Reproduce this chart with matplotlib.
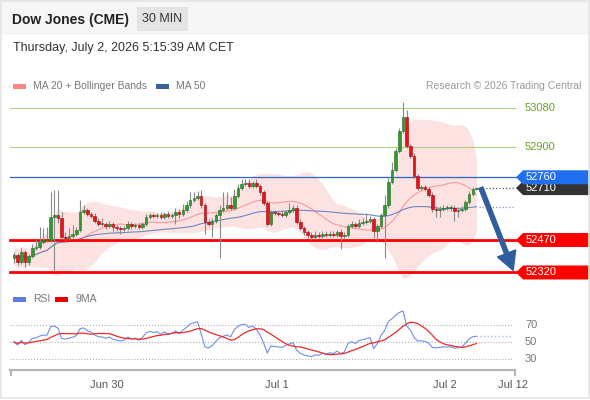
import numpy as np
import pandas as pd
import matplotlib
matplotlib.use("Agg")
import matplotlib.pyplot as plt
from matplotlib import transforms
from matplotlib.patches import Polygon, Rectangle

plt.rcParams['font.family'] = ['Liberation Sans', 'DejaVu Sans']

# 30 min closes (Jun 29 evening -> Jul 2 morning)
closes = [
    52400, 52370, 52415, 52370, 52395, 52435, 52440, 52460, 52470, 52470,
    52575, 52585, 52570, 52485, 52480, 52490, 52500, 52515, 52600, 52610,
    52590, 52580, 52560, 52545, 52545, 52535, 52545, 52530, 52525, 52520,
    52525, 52545, 52535, 52540, 52530, 52545, 52575, 52585, 52580, 52585,
    52575, 52590, 52580, 52585, 52600, 52590, 52610, 52630, 52655, 52665,
    52675, 52630, 52555, 52545, 52560, 52585, 52610, 52620, 52630, 52620,
    52675, 52710, 52730, 52735, 52720, 52735, 52720, 52690, 52640, 52545,
    52600, 52595, 52590, 52585, 52600, 52610, 52620, 52555, 52525, 52505,
    52495, 52485, 52495, 52490, 52500, 52495, 52500, 52495, 52505, 52490,
    52495, 52535, 52545, 52535, 52550, 52555, 52560, 52565, 52510, 52535,
    52585, 52630, 52740, 52795, 52880, 52975, 53040, 52905, 52860, 52765,
    52710, 52715, 52705, 52680, 52615, 52610, 52615, 52620, 52620, 52620,
    52605, 52610, 52615, 52645, 52685, 52705, 52710,
]
first_open = 52385
# wick length above / below the body, in points
upper_wick = [
    15, 10, 20, 10, 10, 15, 30, 70, 55, 60,
    115, 115, 115, 30, 20, 35, 40, 15, 55, 20,
    10, 10, 15, 10, 25, 10, 15, 10, 10, 10,
    10, 15, 10, 10, 10, 10, 15, 10, 10, 10,
    15, 10, 15, 10, 20, 15, 25, 20, 35, 25,
    20, 25, 10, 10, 10, 10, 20, 70, 60, 40,
    30, 20, 20, 15, 15, 10, 15, 10, 10, 10,
    10, 10, 10, 20, 10, 30, 10, 10, 10, 10,
    10, 10, 15, 10, 10, 10, 10, 10, 10, 15,
    10, 10, 15, 10, 15, 15, 35, 15, 10, 10,
    10, 50, 15, 35, 15, 15, 70, 30, 10, 10,
    10, 10, 10, 10, 10, 10, 10, 10, 10, 10,
    10, 10, 10, 10, 10, 10, 5,
]
lower_wick = [
    20, 15, 10, 25, 15, 10, 10, 10, 10, 10,
    10, 250, 20, 10, 15, 10, 10, 10, 10, 10,
    10, 10, 10, 10, 10, 15, 10, 20, 15, 20,
    10, 10, 15, 10, 10, 10, 10, 10, 10, 10,
    10, 10, 10, 10, 40, 20, 10, 10, 10, 10,
    10, 10, 55, 10, 60, 10, 200, 10, 10, 10,
    10, 10, 10, 10, 10, 10, 10, 10, 10, 10,
    10, 10, 10, 10, 10, 10, 10, 10, 10, 10,
    15, 15, 10, 10, 10, 10, 10, 10, 10, 60,
    10, 10, 10, 10, 10, 10, 10, 10, 30, 50,
    10, 200, 10, 10, 10, 10, 10, 10, 10, 10,
    10, 10, 10, 10, 15, 35, 35, 10, 10, 15,
    45, 30, 10, 10, 10, 10, 5,
]

green_levels = [53080, 52900]
blue_level = 52760
red_levels = [52470, 52320]
last_price = 52710

day_pos = [25.3, 71.7, 117.4, 136.0]
day_labels = ["Jun 30", "Jul 1", "Jul 2", "Jul 12"]
rsi_levels = [70, 50, 30]

W, H = 590, 400
def fx(x): return x / W
def fy(y): return 1 - y / H

fig = plt.figure(figsize=(5.9, 4.0), dpi=100)
fig.patch.set_facecolor('white')

# header strip + frame
fig.patches.append(Rectangle((0, fy(35)), 1, 1 - fy(35), transform=fig.transFigure,
                             facecolor='#f6f6f6', edgecolor='none', zorder=0))
fig.patches.append(Rectangle((fx(1), fy(398)), fx(588), fy(1) - fy(398), transform=fig.transFigure,
                             facecolor='none', edgecolor='#e4e4e4', lw=1.2, zorder=0))
fig.patches.append(Rectangle((fx(137), fy(31)), fx(51), fy(7) - fy(31), transform=fig.transFigure,
                             facecolor='#e4e4e4', edgecolor='none', zorder=1))
fig.text(fx(12), fy(20), "Dow Jones (CME)", fontsize=10, fontweight='bold', color='#222222', va='center')
fig.text(fx(162.5), fy(19), "30 MIN", fontsize=9, color='#333333', va='center', ha='center')
fig.text(fx(13), fy(48), "Thursday, July 2, 2026 5:15:39 AM CET", fontsize=9, color='#333333', va='center')

# legends
def legend_item(x, y, color, label):
    fig.patches.append(Rectangle((fx(x), fy(y + 2.5)), fx(13), fy(y - 2.5) - fy(y + 2.5),
                                 transform=fig.transFigure, facecolor=color, edgecolor='none'))
    fig.text(fx(x + 20), fy(y), label, fontsize=7.5, color='#777777', va='center')

legend_item(13, 86, '#ff8585', "MA 20 + Bollinger Bands")
legend_item(156, 86, '#3a5f9f', "MA 50")
fig.text(fx(581), fy(86), "Research \u00a9 2026 Trading Central", fontsize=7.5, color='#9a9a9a',
         va='center', ha='right')
legend_item(13, 299, '#5b7fe0', "RSI")
legend_item(55, 299, '#ee0000', "9MA")

# ---- price panel
x0, x1 = -1.09, 136.5
ax = fig.add_axes([fx(10), fy(282), fx(515) - fx(10), fy(97) - fy(282)])
ax.set_xlim(x0, x1)
ax.set_ylim(52276, 53131)
ax.axis('off')

c = np.array(closes, dtype=float)
o = np.concatenate([[first_open], c[:-1]])
idx = np.arange(len(c))
top = np.maximum(o, c)
bot = np.minimum(o, c)
hi = top + np.array(upper_wick)
lo = bot - np.array(lower_wick)

s = pd.Series(c)
ma20 = s.rolling(20, min_periods=1).mean()
sd20 = s.rolling(20, min_periods=3).std().bfill()
ma50 = s.rolling(50, min_periods=1).mean()

ax.fill_between(idx, ma20 - 2 * sd20, ma20 + 2 * sd20, color='#fde2e2', lw=0, zorder=1)
ax.plot(idx, ma20, color='#f39a9a', lw=0.8, zorder=2)
ax.plot(idx, ma50, color='#6a86c4', lw=0.8, zorder=2)

blend = transforms.blended_transform_factory(fig.transFigure, ax.transData)
for lv in green_levels:
    ax.plot([fx(10), fx(515)], [lv, lv], transform=blend, color='#a9d284', lw=0.8, zorder=2, clip_on=False)
    fig.text(fx(525), lv, str(lv), transform=blend, fontsize=8, color='#5fa81e', va='center')
ax.plot([fx(10), fx(518)], [blue_level] * 2, transform=blend, color='#2c63d4', lw=0.9, zorder=2, clip_on=False)
for lv in red_levels:
    ax.plot([fx(10), fx(518)], [lv, lv], transform=blend, color='#ff0000', lw=2, zorder=2, clip_on=False)

# dotted extensions
ax.plot([idx[-1] + 0.6, x1], [last_price] * 2, color='#555555', lw=0.9, ls=':', zorder=2)
ax.plot([idx[-1] + 0.6, x1], [ma50.iloc[-1]] * 2, color='#8797bb', lw=0.9, ls=':', zorder=2)

# candles
up = c >= o
ax.vlines(idx, lo, hi, color='#8a8a8a', lw=0.8, zorder=3)
heights = np.maximum(top - bot, 3)
ax.bar(idx[up], heights[up], bottom=bot[up], width=0.7, color='#2f9a2f',
       edgecolor='#1f6a1f', lw=0.4, zorder=4)
ax.bar(idx[~up], heights[~up], bottom=bot[~up], width=0.7, color='#e8141b',
       edgecolor='#a30000', lw=0.4, zorder=4)

# price tags on the right
half = 7 * (53131 - 52276) / 185.0
def tag(price, text, face, txt_color='white', z=5):
    pts = [(fx(516), price), (fx(523), price + half), (fx(590), price + half),
           (fx(590), price - half), (fx(523), price - half)]
    ax.add_patch(Polygon(pts, closed=True, transform=blend, facecolor=face,
                         edgecolor='none', zorder=z, clip_on=False))
    ax.text(fx(526), price, text, transform=blend, fontsize=8, color=txt_color,
            va='center', zorder=z + 0.5, clip_on=False)

tag(last_price, str(last_price), '#333333', z=5)
tag(blue_level, str(blue_level), '#1f6ff0', z=7)
for lv in red_levels:
    tag(lv, str(lv), '#ff0000', z=5)

# forecast arrow
ax.annotate('', xy=(136.0, 52330), xytext=(127.2, 52712),
            arrowprops=dict(facecolor='#2f5e9c', edgecolor='#2f5e9c', width=3,
                            headwidth=14, headlength=13, shrink=0),
            annotation_clip=False, zorder=8)

# ---- RSI panel
def wilder_rsi(values, n=14, seed=15.0):
    avg_up, avg_dn = seed, seed
    out = [50.0]
    for prev, cur in zip(values[:-1], values[1:]):
        ch = cur - prev
        avg_up = (avg_up * (n - 1) + max(ch, 0)) / n
        avg_dn = (avg_dn * (n - 1) + max(-ch, 0)) / n
        out.append(100 - 100 / (1 + avg_up / avg_dn))
    return np.array(out)

rsi = wilder_rsi(c)
rsi_ma = pd.Series(rsi).rolling(9, min_periods=1).mean()

rax = fig.add_axes([fx(10), fy(370), fx(515) - fx(10), fy(305) - fy(370)])
rax.set_xlim(x0, x1)
rax.set_ylim(17, 93.5)
for sp in ['top', 'right', 'left']:
    rax.spines[sp].set_visible(False)
rax.spines['bottom'].set_color('#b3b3b3')
rax.spines['bottom'].set_linewidth(1.5)
rax.set_yticks([])
rax.set_xticks(day_pos)
rax.set_xticklabels(day_labels)
rax.tick_params(axis='x', length=0, pad=7, labelsize=8, labelcolor='#555555')
rax.patch.set_alpha(0)

rblend = transforms.blended_transform_factory(fig.transFigure, rax.transData)
for lv in rsi_levels:
    rax.plot([fx(10), fx(513)], [lv, lv], transform=rblend, color='#b0b0b0', lw=0.8, ls=':', clip_on=False)
    fig.text(fx(525), lv, str(lv), transform=rblend, fontsize=8, color='#777777', va='center')

rax.plot(idx, rsi, color='#6f8fe6', lw=0.8)
rax.plot(idx, rsi_ma, color='#ee2a2a', lw=0.9)
rax.plot([idx[-1], x1 - 1], [rsi[-1]] * 2, color='#a9bcf0', lw=1, ls=':')

# end marks of the time axis
for xe in (10.5, 514.5):
    fig.lines.append(plt.Line2D([fx(xe), fx(xe)], [fy(370), fy(375)], transform=fig.transFigure,
                                color='#b3b3b3', lw=1.5))

fig.savefig('out.png', dpi=100)
